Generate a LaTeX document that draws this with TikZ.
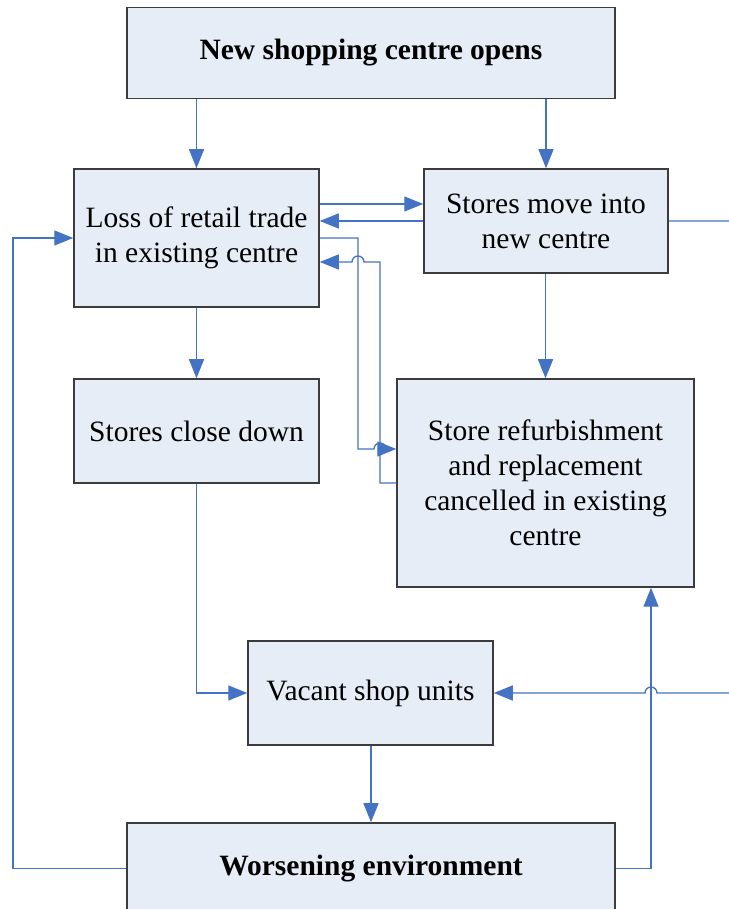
\documentclass[tikz,border=0pt]{standalone}
\usepackage{fontspec}
\setmainfont{Liberation Serif}
\usetikzlibrary{positioning,arrows.meta}
\definecolor{linkblue}{RGB}{68,114,196}
\definecolor{boxfill}{RGB}{231,237,247}
\definecolor{boxline}{RGB}{60,60,60}
\tikzset{%
  every box/.style={
    rectangle,
    draw=boxline,
    fill=boxfill,
    line width=1.5pt,
    align=center,
    inner sep=0pt,
    font=\fontsize{29.5}{35}\selectfont
  },
  bold box/.style={
    every box,
    font=\fontsize{29.5}{35}\selectfont\bfseries
  },
  link/.style={
    draw=linkblue,
    line width=1.3pt
  },
}

\begin{document}
\begin{tikzpicture}[x=1pt, y=1pt, >={Triangle[length=19pt,width=15pt]}]

            \useasboundingbox (0,0) rectangle (728,909);

            % Top and bottom boxes
            \node [bold box, minimum width=488, minimum height=91] (opens) at (371,856) {New shopping centre opens};
            \node [bold box, minimum width=488, minimum height=91] (worse) at (371,40.5) {Worsening environment};

            % Boxes in between
            \node [every box, minimum width=245, minimum height=138] (loss) at (196.5,671) {Loss of retail trade\\in existing centre};
            \node [every box, minimum width=244, minimum height=104] (move) at (546,688) {Stores move into\\new centre};
            \node [every box, minimum width=245, minimum height=104] (close) at (196.5,478) {Stores close down};
            \node [every box, minimum width=297, minimum height=208] (refurb) at (545.5,426) {Store refurbishment\\and replacement\\cancelled in existing\\centre};
            \node [every box, minimum width=245, minimum height=104] (vacant) at (370.5,216) {Vacant shop units};

            % Straight lines downwards
            \foreach \a/\b in {opens/loss, opens/move, loss/close, move/refurb, vacant/worse}
              \draw [link, ->] (\a.south -| \b.north) -- (\b.north);

            % Lines between loss of trade and stores moving
            \coordinate (move-up) at ([yshift=17]move.west);
            \draw [link, ->] (move-up -| loss.east) -- (move-up);
            \draw [link, ->] (move.west) -- (move.west -| loss.east);

            % Lines between loss of trade and refurbishment
            \draw [link, ->] (loss.east) -| (358,460) -- (374,460) arc (180:0:6) -- (refurb.west |- 0,460);
            \draw [link, ->] (refurb.west) -| (380,647) -- (364,647) arc (0:180:6) -- (loss.east |- 0,647);

            % Lines into vacant units
            \draw [link, ->] (close.south) |- (vacant.west);
            \draw [link, ->] (move.east) -- (740,688) -- (740,216) -- (657,216) arc (0:180:6) -- (vacant.east);

            % Lines out of worsening environment
            \draw [link, ->] (worse.west) -- (worse.west -| 13,0) |- (loss.west);
            \draw [link, ->] (worse.east) -| (refurb.south -| 651,0);

\end{tikzpicture}
\end{document}
